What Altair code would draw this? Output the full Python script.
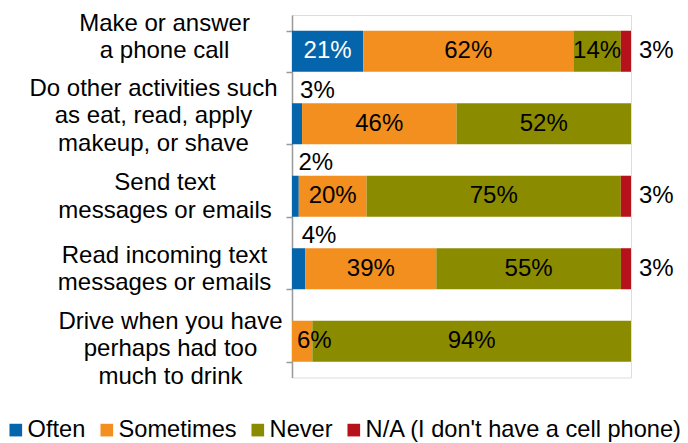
import json
import altair as alt
import pandas as pd

# ---- data ----
categories = [
    "Make or answer\na phone call",
    "Do other activities such\nas eat, read, apply\nmakeup, or shave",
    "Send text\nmessages or emails",
    "Read incoming text\nmessages or emails",
    "Drive when you have\nperhaps had  too\nmuch to drink",
]
series = ["Often", "Sometimes", "Never", "N/A (I don't have a cell phone)"]
often = [21, 3, 2, 4, 0]
sometimes = [62, 46, 20, 39, 6]
never = [14, 52, 75, 55, 94]
na = [3, 0, 3, 3, 0]

# ---- style ----
colors = ["#0465AC", "#F28F1E", "#8B8B00", "#B5121B"]
FONT = "Liberation Sans, Arial, sans-serif"
FS = 24
LFS = 23.6
label_pad = [122, 133, 121.5, 122, 116]
label_shift = [-28, -35.5, -13.75, -13.75, -20.25]

rows = []
for i, cat in enumerate(categories):
    for j, (s, vals) in enumerate(zip(series, [often, sometimes, never, na])):
        v = vals[i]
        if j == 3:
            lt = "right"
        elif v < 5:
            lt = "above"
        elif v < 10:
            lt = "left"
        else:
            lt = "in"
        rows.append({"category": cat, "series": s, "ord": j, "value": v,
                     "ltype": lt if v > 0 else "none"})
df = pd.DataFrame(rows)

cats_js = json.dumps(categories)
pad_expr = f"{json.dumps(label_pad)}[indexof({cats_js}, datum.value)]"
off_expr = f"{json.dumps(label_shift)}[indexof({cats_js}, datum.value)]"

base = alt.Chart(df).transform_stack(
    stack="value", groupby=["category"], as_=["v0", "v1"],
    offset="normalize", sort=[alt.SortField("ord", order="ascending")]
).transform_calculate(
    mid="(datum.v0 + datum.v1) / 2", label="datum.value + '%'"
)

xscale = alt.Scale(domain=[0, 1], nice=False, zero=True)
yscale = alt.Scale(paddingInner=0.434, paddingOuter=0.217)

yaxis = alt.Axis(
    title=None,
    domainColor="#999999", domainWidth=1.5,
    tickColor="#999999", tickWidth=1.5, tickSize=6, tickBand="extent",
    labelFont=FONT, labelFontSize=FS, labelColor="black",
    labelAlign="center", labelBaseline="middle", labelLineHeight=27.5,
    labelLimit=0,
    labelExpr="split(datum.label, '\\n')",
    labelPadding={"expr": pad_expr},
    labelOffset={"expr": off_expr},
)

bars = base.mark_bar().encode(
    x=alt.X("v0:Q", scale=xscale, axis=None),
    x2="v1:Q",
    y=alt.Y("category:N", sort=categories, scale=yscale, axis=yaxis),
    color=alt.Color(
        "series:N",
        scale=alt.Scale(domain=series, range=colors),
        legend=alt.Legend(
            orient="none", legendX=-288, legendY=403, direction="horizontal",
            title=None, symbolType="square", symbolSize=160, symbolStrokeWidth=0,
            labelFont=FONT, labelFontSize=LFS, labelColor="black", labelLimit=400,
            labelOffset=0, columnPadding=9, padding=0,
        ),
    ),
)

tcolor = alt.condition("datum.series == 'Often'", alt.value("white"), alt.value("black"))
ycat = alt.Y("category:N", sort=categories)

t_in = base.transform_filter("datum.ltype == 'in'").mark_text(
    font=FONT, fontSize=FS, align="center", baseline="middle"
).encode(x="mid:Q", y=ycat, text="label:N", color=tcolor)

t_left = base.transform_filter("datum.ltype == 'left'").mark_text(
    font=FONT, fontSize=FS, align="left", baseline="middle", dx=5
).encode(x="v0:Q", y=ycat, text="label:N", color=alt.value("black"))

t_above = base.transform_filter("datum.ltype == 'above'").mark_text(
    font=FONT, fontSize=FS, align="left", baseline="middle", dx=3, dy=-33
).encode(x="mid:Q", y=ycat, text="label:N", color=alt.value("black"))

t_right = base.transform_filter("datum.ltype == 'right'").mark_text(
    font=FONT, fontSize=FS, align="left", baseline="middle", dx=8
).encode(x="v1:Q", y=ycat, text="label:N", color=alt.value("black"))

chart = alt.layer(bars, t_in, t_left, t_above, t_right).properties(
    width=339, height=362.5,
    autosize=alt.AutoSizeParams(type="none"),
    padding={"left": 284, "top": 7, "right": 49, "bottom": 65},
).configure_view(stroke=None).configure(font=FONT)

chart.save("out.html", embed_options={"renderer": "svg", "actions": False})
